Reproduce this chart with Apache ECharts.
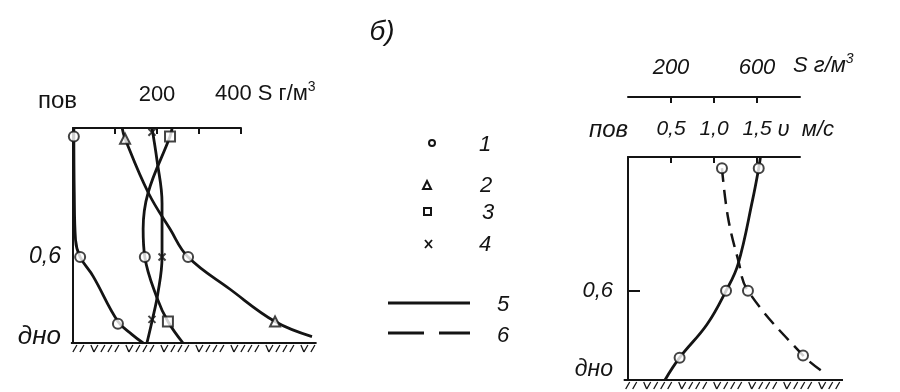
<!DOCTYPE html>
<html>
<head>
<meta charset="utf-8">
<script src="https://cdn.jsdelivr.net/npm/echarts@6/dist/echarts.min.js"></script>
<style>
  html, body { margin: 0; padding: 0; background: #fff; }
  #chart { width: 900px; height: 392px; }
</style>
</head>
<body>
<div id="chart"></div>
<script>
// Relative depth: 0 = surface (пов), 1 = bed (дно)

// Left panel: suspended sediment concentration S, g/m³, on four verticals
const curve1 = [[2, 0], [3, 0.3], [6, 0.52], [17, 0.6], [48, 0.69], [107, 0.9], [140, 0.96], [167, 1.0]];
const curve2 = [[117, 0], [124, 0.05], [179, 0.3], [231, 0.47], [274, 0.6], [374, 0.75], [481, 0.9], [569, 0.97]];
const curve3 = [[236, 0], [231, 0.04], [179, 0.3], [167, 0.47], [171, 0.6], [200, 0.79], [226, 0.9], [262, 1.0]];
const curve4 = [[188, 0], [200, 0.15], [212, 0.35], [212, 0.6], [202, 0.77], [188, 0.9], [176, 1.0]];

// Measured points on the left panel, grouped by symbol
const ptsCircle = [[2, 0.04], [17, 0.6], [107, 0.91], [274, 0.6], [171, 0.6]];
const ptsTriangle = [[124, 0.05], [481, 0.9]];
const ptsSquare = [[231, 0.04], [226, 0.9]];
const ptsCross = [[188, 0.02], [212, 0.6], [188, 0.89]];

// Right panel: flow velocity v, m/s (solid) and concentration S, g/m³ (dashed)
const velocity = [[1.54, 0], [1.52, 0.05], [1.45, 0.19], [1.28, 0.48], [1.14, 0.6], [0.92, 0.75], [0.6, 0.9], [0.43, 1.0]];
const velocityPts = [[1.52, 0.05], [1.14, 0.6], [0.6, 0.9]];
const concentration = [[437, 0.05], [465, 0.27], [512, 0.46], [558, 0.6], [814, 0.89], [902, 0.96]];
const concentrationPts = [[437, 0.05], [558, 0.6], [814, 0.89]];

// Axis ticks and labels
const leftSTicks = [100, 200, 300, 400];
const leftSLabels = [200];
const rightSTicks = [200, 400, 600];
const rightSLabels = [200, 600];
const vTicks = [0.5, 1.0, 1.5];
const depthLabels = [0.6, 1];

// Extent of the bed line under each panel (in the panel's x units)
const bedLeft = [-5, 580];
const bedRight = [-0.05, 2.5];

const INK = '#141414';
const FONT = 'Liberation Sans';
const supRich = {
  s: { fontSize: 14, padding: [0, 0, 13, 0], fontFamily: FONT, color: INK }
};

function depthFormatter(v) {
  if (Math.abs(v - 1) < 1e-6) return '{b|дно}';
  return String(v).replace('.', ',');
}

const chart = echarts.init(document.getElementById('chart'), null, { renderer: 'canvas' });

const lineStyleSolid = { color: INK, width: 2.8 };
const markerStyle = { color: '#fff', borderColor: INK, borderWidth: 2 };

// Scale of the printed axes: left 0.42 px per g/m³, right 86 px per m/s (0.215 px per g/m³).
// Curves run past the printed axis ends, so they are drawn in wider companion grids with the same scale.
const LEFT = { left: 73, top: 128, height: 215 };
const RIGHT = { left: 628, top: 157, height: 223 };

const hiddenAxis = (gridIndex, max, extra) => Object.assign({ gridIndex, type: 'value', min: 0, max, show: false }, extra || {});

const option = {
  backgroundColor: '#fff',
  animation: false,
  grid: [
    Object.assign({ width: 168 }, LEFT),      // 0: printed axes, S 0..400
    Object.assign({ width: 252 }, LEFT),      // 1: data, S 0..600
    Object.assign({ width: 172 }, RIGHT),     // 2: printed axes, v 0..2, S 0..800
    Object.assign({ width: 215 }, RIGHT)      // 3: data, v 0..2.5, S 0..1000
  ],
  xAxis: [
    {
      gridIndex: 0, type: 'value', position: 'top', min: 0, max: 400,
      splitLine: { show: false },
      axisLine: { lineStyle: { color: INK, width: 2 } },
      axisTick: { inside: true, length: 6, customValues: leftSTicks, lineStyle: { color: INK, width: 2 } },
      axisLabel: { customValues: leftSLabels, margin: 22, fontSize: 22, color: INK, fontFamily: FONT },
      name: '400 S г/м{s|3}', nameLocation: 'end', nameGap: -26,
      nameTextStyle: { fontSize: 22, color: INK, fontFamily: FONT, verticalAlign: 'bottom', padding: [0, 0, 21, 0], rich: supRich }
    },
    {
      gridIndex: 2, type: 'value', position: 'top', min: 0, max: 2,
      splitLine: { show: false },
      axisLine: { lineStyle: { color: INK, width: 2 } },
      axisTick: { inside: true, length: 6, customValues: vTicks, lineStyle: { color: INK, width: 2 } },
      axisLabel: { customValues: vTicks, margin: 17, fontSize: 21, fontStyle: 'italic', color: INK, fontFamily: FONT,
        formatter: v => v.toFixed(1).replace('.', ',') },
      name: 'υ  м/с', nameLocation: 'end', nameGap: -23,
      nameTextStyle: { fontSize: 22, fontStyle: 'italic', color: INK, fontFamily: FONT, verticalAlign: 'bottom', padding: [0, 0, 16, 0] }
    },
    {
      gridIndex: 2, type: 'value', position: 'top', offset: 60, min: 0, max: 800,
      splitLine: { show: false },
      axisLine: { lineStyle: { color: INK, width: 2 } },
      axisTick: { inside: true, length: 6, customValues: rightSTicks, lineStyle: { color: INK, width: 2 } },
      axisLabel: { customValues: rightSLabels, margin: 18, fontSize: 22, fontStyle: 'italic', color: INK, fontFamily: FONT },
      name: 'S г/м{s|3}', nameLocation: 'end', nameGap: -7,
      nameTextStyle: { fontSize: 22, fontStyle: 'italic', color: INK, fontFamily: FONT, verticalAlign: 'bottom', padding: [0, 0, 18, 0], rich: supRich }
    },
    hiddenAxis(1, 600),     // 3: left data S
    hiddenAxis(3, 2.5),     // 4: right data v
    hiddenAxis(3, 1000)     // 5: right data S
  ],
  yAxis: [
    {
      gridIndex: 0, type: 'value', inverse: true, min: 0, max: 1,
      splitLine: { show: false },
      axisLine: { lineStyle: { color: INK, width: 2 } },
      axisTick: { show: false },
      axisLabel: { customValues: depthLabels, margin: 12, fontSize: 23, fontStyle: 'italic', color: INK, fontFamily: FONT,
        formatter: depthFormatter, rich: { b: { fontSize: 26, fontStyle: 'italic', color: INK, fontFamily: FONT, padding: [0, 0, 12, 0] } } },
      name: 'пов', nameLocation: 'start', nameGap: 27,
      nameTextStyle: { fontSize: 24, color: INK, fontFamily: FONT, align: 'right', verticalAlign: 'middle', padding: [0, -4, 0, 0] }
    },
    {
      gridIndex: 2, type: 'value', inverse: true, min: 0, max: 1,
      splitLine: { show: false },
      axisLine: { lineStyle: { color: INK, width: 2 } },
      axisTick: { inside: true, length: 12, customValues: [0.6], lineStyle: { color: INK, width: 2 } },
      axisLabel: { customValues: depthLabels, margin: 15, fontSize: 22, fontStyle: 'italic', color: INK, fontFamily: FONT,
        formatter: depthFormatter, rich: { b: { fontSize: 23, fontStyle: 'italic', color: INK, fontFamily: FONT, padding: [0, 0, 20, 0] } } },
      name: 'пов', nameLocation: 'start', nameGap: 27,
      nameTextStyle: { fontSize: 24, fontStyle: 'italic', color: INK, fontFamily: FONT, align: 'right', verticalAlign: 'middle' }
    },
    hiddenAxis(1, 1, { inverse: true }),   // 2: left data depth
    hiddenAxis(3, 1, { inverse: true })    // 3: right data depth
  ],
  series: [
    // left panel curves
    ...[curve1, curve2, curve3, curve4].map(d => ({
      type: 'line', xAxisIndex: 3, yAxisIndex: 2, data: d, smooth: 0.4,
      showSymbol: false, lineStyle: lineStyleSolid, z: 2
    })),
    { type: 'scatter', xAxisIndex: 3, yAxisIndex: 2, data: ptsCircle, symbol: 'circle', symbolSize: 10, itemStyle: markerStyle, z: 5 },
    { type: 'scatter', xAxisIndex: 3, yAxisIndex: 2, data: ptsTriangle, symbol: 'triangle', symbolSize: 10, itemStyle: markerStyle, z: 5 },
    { type: 'scatter', xAxisIndex: 3, yAxisIndex: 2, data: ptsSquare, symbol: 'rect', symbolSize: 10, itemStyle: markerStyle, z: 5 },
    { type: 'scatter', xAxisIndex: 3, yAxisIndex: 2, data: ptsCross, symbol: 'path://M0,0L10,10M10,0L0,10', symbolSize: 7,
      itemStyle: { color: 'none', borderColor: INK, borderWidth: 2 }, z: 5 },
    // right panel: velocity (solid) and concentration (dashed)
    { type: 'line', xAxisIndex: 4, yAxisIndex: 3, data: velocity, smooth: 0.4, showSymbol: false, lineStyle: lineStyleSolid, z: 2 },
    { type: 'line', xAxisIndex: 5, yAxisIndex: 3, data: concentration, smooth: 0.4, showSymbol: false,
      lineStyle: { color: INK, width: 2.5, type: [14, 8] }, z: 2 },
    { type: 'scatter', xAxisIndex: 4, yAxisIndex: 3, data: velocityPts, symbol: 'circle', symbolSize: 10, itemStyle: markerStyle, z: 5 },
    { type: 'scatter', xAxisIndex: 5, yAxisIndex: 3, data: concentrationPts, symbol: 'circle', symbolSize: 10, itemStyle: markerStyle, z: 5 }
  ]
};

chart.setOption(option);

// Bed lines with hatching, title and the key
function bed(gridFinder, extent) {
  const a = chart.convertToPixel(gridFinder, [extent[0], 1]);
  const b = chart.convertToPixel(gridFinder, [extent[1], 1]);
  const els = [{
    type: 'line', shape: { x1: a[0], y1: a[1], x2: b[0], y2: b[1] },
    style: { stroke: INK, lineWidth: 2 }
  }];
  let i = 0;
  for (let x = a[0] + 6; x < b[0]; x += 7, i++) {
    const lean = (i % 5 === 2) ? -3 : 4;
    els.push({
      type: 'line', shape: { x1: x, y1: a[1] + 2, x2: x - lean, y2: a[1] + 9 },
      style: { stroke: INK, lineWidth: 1.3 }
    });
  }
  return els;
}

const keyText = (t, x, y) => ({
  type: 'text', x, y,
  style: { text: t, fill: INK, font: 'italic 22px "Liberation Sans"', textAlign: 'center', textVerticalAlign: 'middle' }
});
const keyMarker = { fill: '#fff', stroke: INK, lineWidth: 2 };
const keyStroke = { stroke: INK, lineWidth: 1.8 };

const graphics = [
  ...bed({ xAxisIndex: 3, yAxisIndex: 2 }, bedLeft),
  ...bed({ xAxisIndex: 4, yAxisIndex: 3 }, bedRight),
  { type: 'text', x: 382, y: 32,
    style: { text: 'б)', fill: INK, font: 'italic 28px "Liberation Sans"', textAlign: 'center', textVerticalAlign: 'middle' } },
  { type: 'circle', shape: { cx: 432, cy: 143, r: 3 }, style: keyMarker },
  keyText('1', 485, 145),
  { type: 'polygon', shape: { points: [[427, 181], [431, 189], [423, 189]] }, style: keyMarker },
  keyText('2', 486, 186),
  { type: 'rect', shape: { x: 424, y: 208, width: 7, height: 7 }, style: keyMarker },
  keyText('3', 488, 213),
  { type: 'line', shape: { x1: 425, y1: 240, x2: 432, y2: 248 }, style: keyStroke },
  { type: 'line', shape: { x1: 432, y1: 240, x2: 425, y2: 248 }, style: keyStroke },
  keyText('4', 485, 245),
  { type: 'line', shape: { x1: 388, y1: 303, x2: 470, y2: 303 }, style: { stroke: INK, lineWidth: 2.8 } },
  keyText('5', 503, 305),
  { type: 'line', shape: { x1: 388, y1: 333, x2: 470, y2: 333 }, style: { stroke: INK, lineWidth: 2.8, lineDash: [36, 15] } },
  keyText('6', 503, 336)
];

chart.setOption({ graphic: graphics });
</script>
</body>
</html>
